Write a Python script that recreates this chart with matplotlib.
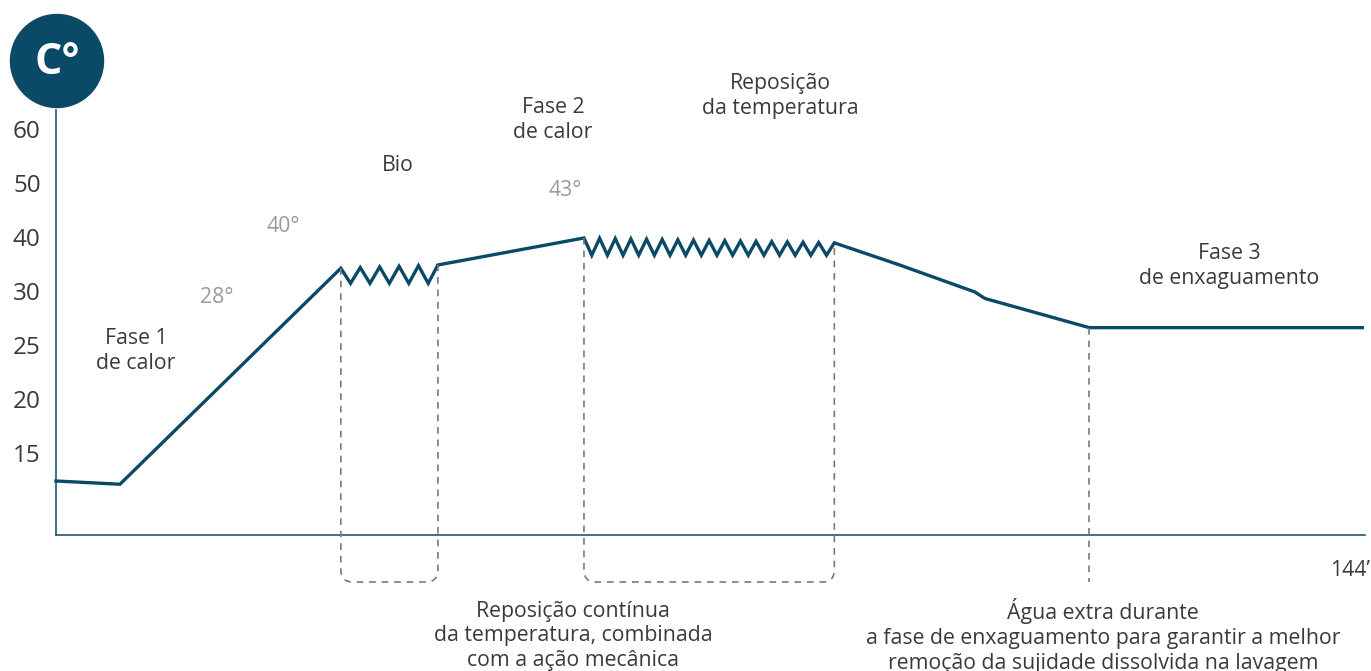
import numpy as np
import matplotlib
matplotlib.use('Agg')
import matplotlib.pyplot as plt
from matplotlib.path import Path
from matplotlib.patches import PathPatch, Ellipse
from matplotlib.transforms import IdentityTransform

# temperature profile of the wash cycle (minutes, °C)
time_min = [0, 7.05, 31.4, 42.1, 58.2, 85.8, 93.0, 101.3, 102.4, 113.9, 144]
temp_c = [12.4, 12.1, 34.2, 34.8, 39.8, 38.9, 34.8, 29.9, 29.3, 26.6, 26.6]

# oscillating stretches: (start index, end index, teeth, trough temp)
zigzags = [(2, 3, 5, 31.4), (4, 5, 16, 36.6)]

temp_ticks = [15, 20, 25, 30, 40, 50, 60]
tick_labels = ['15', '20', '25', '30', '40', '50', '60']
end_label = '144\u2019'

TEAL = '#0b4a66'
TXT = '#3a3a3a'
GREY = '#9a9a9a'
DASH = '#7a7a7a'

W, H = 1371, 671
plt.rcParams['font.family'] = ['Open Sans', 'DejaVu Sans']


# even spacing between the labelled temperatures
tick_pos = np.arange(1, len(temp_ticks) + 1, dtype=float)

def fwd(t):
    t = np.asarray(t, dtype=float)
    p = np.interp(t, temp_ticks, tick_pos)
    p = np.where(t < temp_ticks[0], 1 + (t - temp_ticks[0]) / 5, p)
    p = np.where(t > temp_ticks[-1], tick_pos[-1] + (t - temp_ticks[-1]) / 10, p)
    return p

def inv(p):
    p = np.asarray(p, dtype=float)
    t = np.interp(p, tick_pos, temp_ticks)
    t = np.where(p < 1, temp_ticks[0] + (p - 1) * 5, t)
    t = np.where(p > tick_pos[-1], temp_ticks[-1] + (p - tick_pos[-1]) * 10, t)
    return t


def build_curve():
    xs, ys = [time_min[0]], [temp_c[0]]
    zz = {z[0]: z for z in zigzags}
    i = 0
    while i < len(time_min) - 1:
        if i in zz:
            _, j, n, low = zz[i]
            x0, x1 = time_min[i], time_min[j]
            y0, y1 = temp_c[i], temp_c[j]
            dx = (x1 - x0) / n
            for k in range(n):
                xs.append(x0 + (k + 0.5) * dx)
                ys.append(low)
                xk = x0 + (k + 1) * dx
                xs.append(xk)
                ys.append(y0 + (y1 - y0) * (xk - x0) / (x1 - x0))
            i = j
        else:
            xs.append(time_min[i + 1])
            ys.append(temp_c[i + 1])
            i += 1
    return xs, ys


fig = plt.figure(figsize=(W / 100, H / 100), dpi=100)
ax = fig.add_axes([56 / W, 136 / H, (1365 - 56) / W, (535 - 110) / H])
ax.set_yscale('function', functions=(fwd, inv))
ax.set_xlim(0, 144.3)
ax.set_ylim(7.4, 63.5)

cx, cy = build_curve()
ax.plot(cx, cy, color=TEAL, lw=2.4, solid_joinstyle='miter', zorder=3, clip_on=False)

for s in ['top', 'right']:
    ax.spines[s].set_visible(False)
for s in ['left', 'bottom']:
    ax.spines[s].set_color(TEAL)
    ax.spines[s].set_linewidth(1.1)
ax.set_xticks([])
ax.set_yticks(temp_ticks)
ax.set_yticklabels(tick_labels)
ax.tick_params(axis='y', length=0, pad=11, labelsize=17.5, labelcolor=TXT)

# dashed brackets under the oscillating stretches
to_px = ax.transData.transform
ybot = to_px((0, 7.4))[1] - 47
r = 12
for i, j, _, _ in zigzags:
    (x0, y0), (x1, y1) = to_px([(time_min[i], temp_c[i]), (time_min[j], temp_c[j])])
    verts = [(x0, y0), (x0, ybot + r), (x0, ybot), (x0 + r, ybot),
             (x1 - r, ybot), (x1, ybot), (x1, ybot + r), (x1, y1)]
    codes = [Path.MOVETO, Path.LINETO, Path.CURVE3, Path.CURVE3,
             Path.LINETO, Path.CURVE3, Path.CURVE3, Path.LINETO]
    fig.add_artist(PathPatch(Path(verts, codes), transform=IdentityTransform(),
                             fill=False, ec=DASH, lw=1.2, ls=(0, (4, 3.5)), zorder=1))
xr, yr = to_px((time_min[9], temp_c[9]))
fig.add_artist(PathPatch(Path([(xr, yr), (xr, ybot)]), transform=IdentityTransform(),
                         fill=False, ec=DASH, lw=1.2, ls=(0, (4, 3.5)), zorder=1))

# unit badge
fig.add_artist(Ellipse((57 / W, 1 - 61 / H), 93 / W, 93 / H, transform=fig.transFigure,
                       color=TEAL, zorder=5))
fig.text(57 / W, 1 - 62 / H, 'C°', color='white', fontsize=31, fontweight='bold',
         ha='center', va='center', zorder=6)


def label(x, y, s, color=TXT, size=15.3, ha='center'):
    fig.text(x / W, 1 - y / H, s, color=color, fontsize=size, ha=ha, va='center',
             linespacing=1.22)


label(136, 351, 'Fase 1\nde calor')
label(217, 297, '28°', GREY)
label(283, 226, '40°', GREY)
label(398, 165, 'Bio')
label(553, 120, 'Fase 2\nde calor')
label(565, 190, '43°', GREY)
label(780, 96, 'Reposição\nda temperatura')
label(1229, 266, 'Fase 3\nde enxaguamento')
label(1370, 570, end_label, ha='right')
label(573, 636, 'Reposição contínua\nda temperatura, combinada\ncom a ação mecânica')
label(1103, 636, 'Água extra durante\na fase de enxaguamento para garantir a melhor\n'
      'remoção da sujidade dissolvida na lavagem')

fig.savefig('out.png', dpi=100)
